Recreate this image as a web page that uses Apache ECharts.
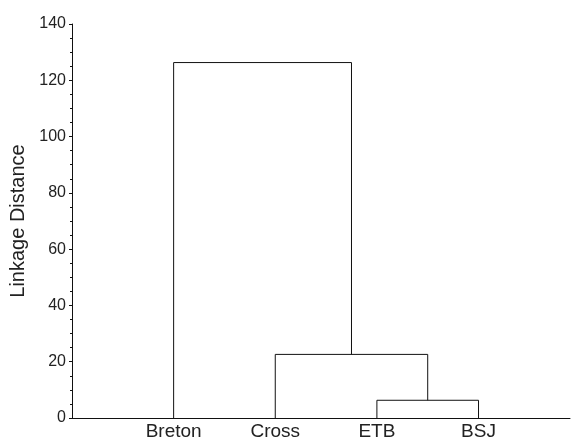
<!DOCTYPE html>
<html>
<head>
<meta charset="utf-8">
<script src="https://cdn.jsdelivr.net/npm/echarts@6/dist/echarts.min.js"></script>
<style>
    html, body { margin: 0; padding: 0; background: #fff; }
    #chart { width: 573px; height: 442px; }
</style>
</head>
<body>
<div id="chart"></div>
<script>
// leaves in display order
const leaves = ['Breton', 'Cross', 'ETB', 'BSJ'];
// merges: [child A, child B, linkage distance]; ids >= leaves.length are earlier merges
const mergeLeft = [2, 1, 0];
const mergeRight = [3, 4, 5];
const mergeHeight = [6.3, 22.6, 126.3];
const yTicks = [0, 20, 40, 60, 80, 100, 120, 140];

const nodeX = leaves.map((_, i) => i + 1);
const nodeY = leaves.map(() => 0);
const series = [];
for (let i = 0; i < mergeHeight.length; i++) {
    const a = mergeLeft[i], b = mergeRight[i], h = mergeHeight[i];
    series.push({
        type: 'line',
        symbol: 'none',
        silent: true,
        lineStyle: { color: '#111', width: 1 },
        data: [[nodeX[a], nodeY[a]], [nodeX[a], h], [nodeX[b], h], [nodeX[b], nodeY[b]]]
    });
    nodeX.push((nodeX[a] + nodeX[b]) / 2);
    nodeY.push(h);
}

const chart = echarts.init(document.getElementById('chart'));
const font = 'Liberation Sans, Arial, sans-serif';
chart.setOption({
    animation: false,
    grid: { left: 72, right: 0, top: 24, bottom: 24 },
    xAxis: {
        type: 'value',
        min: 0,
        max: 4.9,
        interval: 1,
        axisLine: { lineStyle: { color: '#111' } },
        axisTick: { show: false },
        splitLine: { show: false },
        axisLabel: {
            color: '#222',
            fontFamily: font,
            fontSize: 19,
            margin: 4,
            formatter: v => (Number.isInteger(v) && v >= 1 && v <= leaves.length) ? leaves[v - 1] : ''
        }
    },
    yAxis: {
        type: 'value',
        min: yTicks[0],
        max: yTicks[yTicks.length - 1],
        interval: 20,
        name: 'Linkage Distance',
        nameLocation: 'middle',
        nameGap: 38,
        nameTextStyle: { color: '#222', fontFamily: font, fontSize: 20 },
        axisLine: { show: true, lineStyle: { color: '#111' } },
        axisTick: { show: true, length: 3, lineStyle: { color: '#111' } },
        minorTick: { show: true, splitNumber: 4, length: 2, lineStyle: { color: '#111' } },
        splitLine: { show: false },
        axisLabel: { color: '#222', fontFamily: font, fontSize: 16, margin: 6 }
    },
    series: series
});
</script>
</body>
</html>
